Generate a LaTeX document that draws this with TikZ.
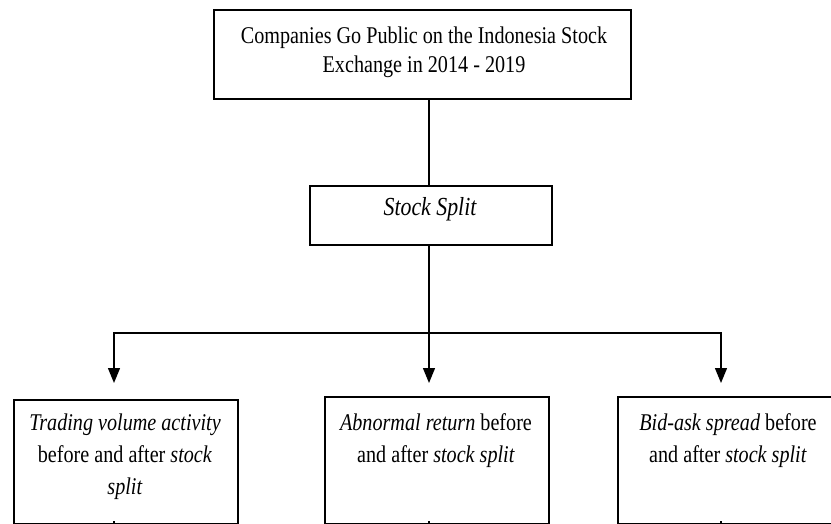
\documentclass[tikz,border=0pt]{standalone}
\usepackage{fontspec}
\setmainfont[FakeStretch=0.84]{Liberation Serif}
\usetikzlibrary{arrows.meta}
\begin{document}
\begin{tikzpicture}[x=1pt,y=-1pt,
  box/.style={draw=black, line width=1.6pt, inner sep=0pt},
  txt/.style={align=center, inner sep=0pt, text=black},
  conn/.style={draw=black, line width=1.3pt},
  arr/.style={conn, -{Triangle[length=15pt,width=12pt]}}]
\useasboundingbox (0,0) rectangle (831,524);
\clip (0,0) rectangle (831,524);
% boxes
\node[box, minimum width=417pt, minimum height=89pt, anchor=north west] (top) at (213,9) {};
\node[txt, font=\fontsize{24}{29}\selectfont] (ttop) at (424,52) {Companies Go Public on the Indonesia Stock\\Exchange in 2014 - 2019};
\node[box, minimum width=242pt, minimum height=59pt, anchor=north west] (ss) at (309,185) {};
\node[txt, font=\fontsize{26}{30}\selectfont\itshape] (tss) at (430,209) {Stock Split};
\node[box, minimum width=224pt, minimum height=124pt, anchor=north west] (b1) at (13,399) {};
\node[box, minimum width=224pt, minimum height=127pt, anchor=north west] (b2) at (324,396) {};
\node[box, minimum width=224pt, minimum height=127pt, anchor=north west] (b3) at (617,396) {};
\node[txt, font=\fontsize{24}{32}\selectfont, anchor=north] (t1) at (125,414) {\textit{Trading volume activity}\\before and after \textit{stock}\\\textit{split}};
\node[txt, font=\fontsize{24}{32}\selectfont, anchor=north] (t2) at (436,413) {\textit{Abnormal return} before\\and after \textit{stock split}};
\node[txt, font=\fontsize{24}{32}\selectfont, anchor=north] (t3) at (728,413) {\textit{Bid-ask spread} before\\and after \textit{stock split}};
% connectors
\coordinate (j) at (429,333);
\coordinate (a1) at (114,383);
\coordinate (a2) at (429,383);
\coordinate (a3) at (721,383);
\draw[conn] (top.south -| j) -- (ss.north -| j);
\draw[conn] (ss.south -| j) -- (j);
\draw[arr] (j) -| (a1);
\draw[arr] (j) -- (a2);
\draw[arr] (j) -| (a3);
% small marks at the bottom of the boxes
\draw[conn] (b1.south -| a1) -- ++(0,-4);
\draw[conn] (b2.south -| a2) -- ++(0,-4);
\draw[conn] (b3.south -| a3) -- ++(0,-4);
\end{tikzpicture}
\end{document}
